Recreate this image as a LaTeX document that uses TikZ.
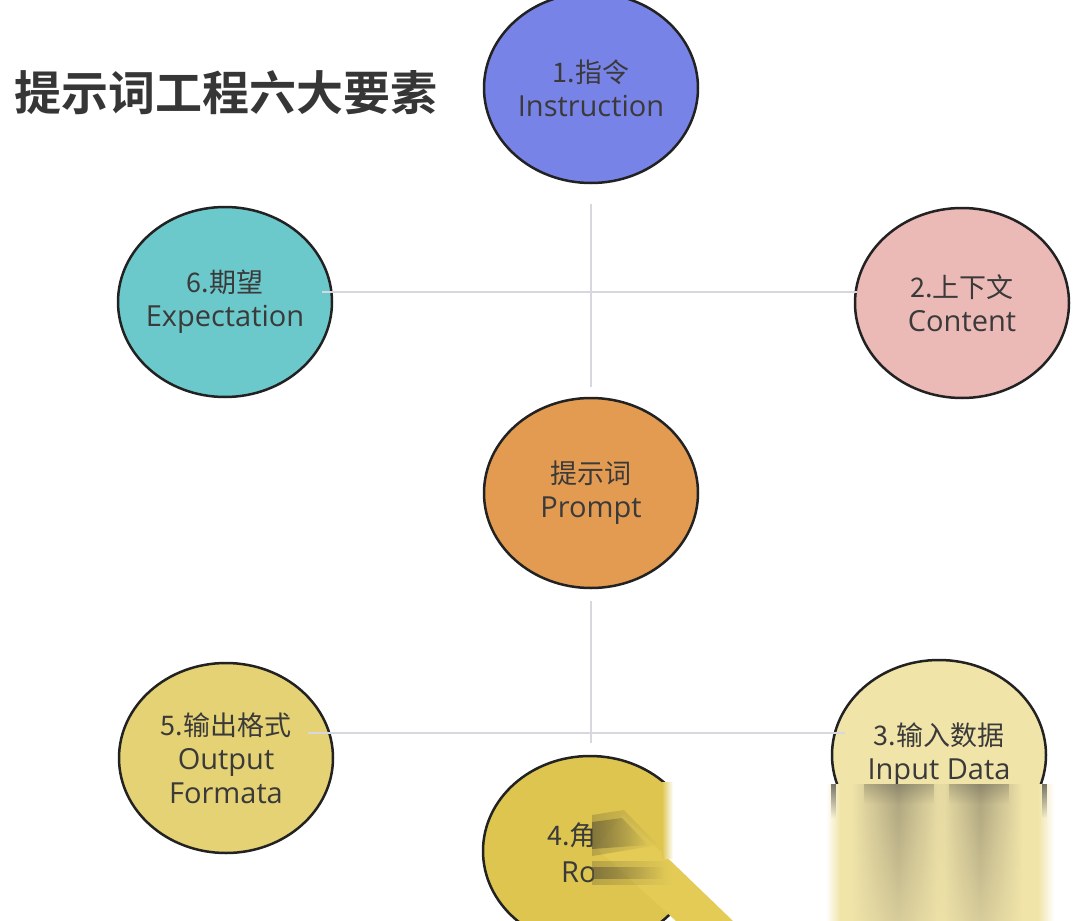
\documentclass[tikz,border=0pt]{standalone}
\usepackage{fontspec}
\usetikzlibrary{shapes.geometric,fadings}
\setmainfont{Open Sans}
\newfontfamily\cjk[Scale=0.93]{Noto Sans CJK SC}
\newfontfamily\cjkbold{Noto Sans CJK SC Bold}
\newcommand\zh[1]{{\cjk #1}}
\newcommand\cl[1]{\makebox[0pt]{#1}}
\definecolor{edge}{HTML}{222222}
\definecolor{txt}{HTML}{3A3A3A}
\definecolor{linec}{HTML}{D6D7DF}
\definecolor{cI}{HTML}{7883E7}
\definecolor{cC}{HTML}{ECBAB6}
\definecolor{cE}{HTML}{6CC9CB}
\definecolor{cP}{HTML}{E39B52}
\definecolor{cO}{HTML}{E4D274}
\definecolor{cD}{HTML}{F0E4A9}
\definecolor{cR}{HTML}{DEC550}
\definecolor{band}{HTML}{E3CB56}
\definecolor{streak}{HTML}{5E5634}
\definecolor{olive}{HTML}{BDB38B}
\definecolor{titlec}{HTML}{363636}
\tikzfading[name=fadeR, left color=transparent!0, right color=transparent!100]
\tikzfading[name=fadeDown, top color=transparent!0, bottom color=transparent!100]
\tikzfading[name=softcol, left color=transparent!100, right color=transparent!100, middle color=transparent!0]
\begin{document}
\begin{tikzpicture}[x=1pt,y=-1pt,
  bub/.style={ellipse, draw=edge, line width=2.5pt, minimum width=214pt,
    minimum height=190pt, inner sep=0pt, align=center, text=txt,
    font=\fontsize{29}{34}\selectfont},
  conn/.style={draw=linec, line width=2.6pt},
  lbl/.style={inner sep=0pt, text=txt, font=\fontsize{29}{34}\selectfont, anchor=west}]
\fill[white] (0,0) rectangle (1080,921);
\useasboundingbox (0,0) rectangle (1080,921);

% title
\node[inner sep=0pt, anchor=west, text=titlec, font=\cjkbold\fontsize{47}{50}\selectfont] (title) at (14,93) {提示词工程六大要素};

% bubbles
\node[bub, fill=cI] (ins) at (591,88) {\cl{\zh{1.指令}}\\\cl{Instruction}};
\node[bub, fill=cC] (con) at (962,303) {\cl{\zh{2.上下文}}\\\cl{Content}};
\node[bub, fill=cE] (exp) at (225,302) {\cl{\zh{6.期望}}\\\cl{Expectation}};
\node[bub, fill=cP] (pro) at (591,493) {\cl{\zh{提示词}}\\\cl{Prompt}};
\node[bub, fill=cO] (out) at (226,758) {\cl{\zh{5.输出格式}}\\\cl{Output}\\\cl{Formata}};

% role bubble (damaged)
\node[bub, fill=cR] (rol) at (590,851) {};
\begin{scope}
  \clip (500,800) rectangle (593,900);
  \node[lbl] (rolzh) at (547,835) {\zh{4.角}};
  \node[lbl] (rolen) at (561,872) {Ro};
\end{scope}
\fill[white] (667,740) -- (667,859) -- (731,921) -- (828,921) -- (828,740) -- cycle;
\fill[band] (623,815) -- (733,921) -- (676,921) -- (596,848) -- cycle;
\shade[left color=cR, right color=white] (662,782) rectangle (673,858);
\fill[streak, path fading=fadeR, fill opacity=0.3] (592,815) -- (624,810) -- (658,845) -- (592,856) -- cycle;
\fill[streak, path fading=fadeR, fill opacity=0.6] (592,822) -- (622,818) -- (648,845) -- (592,849) -- cycle;
\fill[streak, path fading=fadeR, fill opacity=0.3] (592,861) rectangle (672,885);
\fill[streak, path fading=fadeR, fill opacity=0.6] (592,867) rectangle (664,879);

% input data bubble (damaged)
\begin{scope}
  \clip (800,640) rectangle (1080,784);
  \node[bub, fill=cD] (inp) at (939,755) {\cl{\zh{3.输入数据}}\\\cl{Input Data}};
\end{scope}
\fill[cD] (839,784) rectangle (1039,921);
\shade[left color=white, right color=cD] (826,784) rectangle (840,921);
\shade[left color=cD, right color=white] (1038,784) rectangle (1054,921);
\shade[top color=olive!90!black, bottom color=olive!50!cD, path fading=softcol] (852,784) rectangle (944,921);
\shade[top color=olive!90!black, bottom color=olive!50!cD, path fading=softcol] (938,784) rectangle (1022,921);
\fill[txt, path fading=fadeDown, fill opacity=0.25] (864,784) rectangle (934,804);
\fill[txt, path fading=fadeDown, fill opacity=0.25] (949,784) rectangle (1009,804);
\fill[edge, path fading=fadeDown, fill opacity=0.6] (831,784) rectangle (836,818);
\fill[edge, path fading=fadeDown, fill opacity=0.6] (1042,784) rectangle (1047,818);

% connectors
\coordinate (t1) at (591,204);
\coordinate (t2) at (591,387);
\coordinate (h1) at (322,292);
\coordinate (h2) at (857,292);
\coordinate (b1) at (591,601);
\coordinate (b2) at (591,743);
\coordinate (g1) at (308,733);
\coordinate (g2) at (845,733);
\draw[conn] (t1) -- (t2);
\draw[conn] (h1) -- (h2);
\draw[conn] (b1) -- (b2);
\draw[conn] (g1) -- (g2);
\end{tikzpicture}
\end{document}
